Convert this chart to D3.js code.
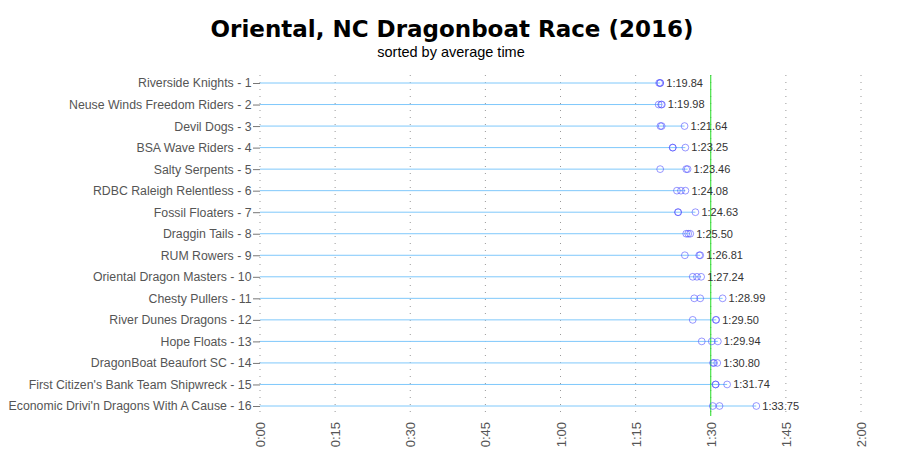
<!DOCTYPE html>
<html><head><meta charset="utf-8">
<script src="https://cdn.jsdelivr.net/npm/d3@7"></script>
<style>body{margin:0;background:#fff;} svg{display:block;font-family:"Liberation Sans",Arial,sans-serif;}</style>
</head><body><svg id="c" width="900" height="450"></svg>
<script>
const teams = ["Riverside Knights - 1","Neuse Winds Freedom Riders - 2","Devil Dogs - 3","BSA Wave Riders - 4","Salty Serpents - 5","RDBC Raleigh Relentless - 6","Fossil Floaters - 7","Draggin Tails - 8","RUM Rowers - 9","Oriental Dragon Masters - 10","Chesty Pullers - 11","River Dunes Dragons - 12","Hope Floats - 13","DragonBoat Beaufort SC - 14","First Citizen's Bank Team Shipwreck - 15","Economic Drivi'n Dragons With A Cause - 16"];
// race times in seconds (three races per team)
const race1 = [79.70,79.60,79.95,82.40,79.90,83.25,83.45,85.10,84.83,86.40,86.70,86.40,88.20,90.45,90.95,90.40];
const race2 = [79.90,80.10,80.20,82.42,85.10,84.05,83.50,85.50,87.70,87.24,87.90,91.00,90.20,90.65,91.00,91.75];
const race3 = [79.92,80.24,84.77,84.93,85.38,84.94,86.94,85.90,87.90,88.08,92.37,91.10,91.42,91.30,93.27,99.10];
const averages = [79.84,79.98,81.64,83.25,83.46,84.08,84.63,85.50,86.81,87.24,88.99,89.50,89.94,90.80,91.74,93.75];
const xTickValues = [0,15,30,45,60,75,90,105,120];
const xTickLabels = ["0:00","0:15","0:30","0:45","1:00","1:15","1:30","1:45","2:00"];
const refTime = 90;

const svg = d3.select("#c");
const x = d3.scaleLinear().domain([0,120]).range([260,861]);
const y = d3.scalePoint().domain(teams).range([83,406]);
const plotTop = 75, plotBottom = 416;

svg.append("text").attr("x",452).attr("y",37).attr("text-anchor","middle")
  .attr("font-family","DejaVu Sans, Verdana, sans-serif")
  .attr("font-size",23).attr("font-weight","bold").attr("fill","#000")
  .text("Oriental, NC Dragonboat Race (2016)");
svg.append("text").attr("x",451).attr("y",57).attr("text-anchor","middle")
  .attr("font-size",14.5).attr("fill","#000").text("sorted by average time");

// grid lines
svg.append("g").selectAll("line").data(xTickValues).join("line")
  .attr("x1",d=>x(d)).attr("x2",d=>x(d)).attr("y1",plotTop).attr("y2",plotBottom)
  .attr("stroke","#999").attr("stroke-width",1).attr("stroke-dasharray","1,6");

// x axis labels
const xa = d3.axisBottom(x).tickValues(xTickValues).tickFormat((d,i)=>xTickLabels[i]).tickSize(0);
const gx = svg.append("g").attr("transform",`translate(0,${plotBottom})`).call(xa);
gx.select(".domain").remove();
gx.selectAll("text").attr("transform","rotate(-90)").attr("text-anchor","end")
  .attr("x",-6).attr("y",0).attr("dy","0.35em").attr("font-size",13).attr("fill","#555")
  .attr("font-family","Liberation Sans, Arial, sans-serif");

// y axis
const ya = d3.axisLeft(y).tickSize(7).tickPadding(1.5);
const gy = svg.append("g").attr("transform",`translate(260,0)`).call(ya);
gy.select(".domain").remove();
gy.selectAll("line").attr("stroke","#777");
gy.selectAll("text").attr("font-size",12.3).attr("fill","#555")
  .attr("font-family","Liberation Sans, Arial, sans-serif");

// lines
const rows = teams.map((t,i)=>({team:t, times:[race1[i],race2[i],race3[i]], avg:averages[i]}));
svg.append("g").selectAll("line").data(rows).join("line")
  .attr("x1",x(0)).attr("x2",d=>x(d3.max(d.times))).attr("y1",d=>y(d.team)).attr("y2",d=>y(d.team))
  .attr("stroke","#7fc8fb").attr("stroke-width",1);

// reference line
svg.append("line").attr("x1",x(refTime)).attr("x2",x(refTime)).attr("y1",plotTop).attr("y2",plotBottom)
  .attr("stroke","#22dd22").attr("stroke-width",1);

// points
const pts = rows.flatMap(r=>r.times.map(t=>({team:r.team,t})));
svg.append("g").selectAll("circle").data(pts).join("circle")
  .attr("cx",d=>x(d.t)).attr("cy",d=>y(d.team)).attr("r",3.4)
  .attr("fill","none").attr("stroke","#4444ff").attr("stroke-opacity",0.55).attr("stroke-width",1);

function fmt(s){const m=Math.floor(s/60);const r=s-m*60;return m+":"+(r<10?"0":"")+r.toFixed(2);}
svg.append("g").selectAll("text").data(rows).join("text")
  .attr("x",d=>x(d3.max(d.times))+6).attr("y",d=>y(d.team)).attr("dy","0.35em")
  .attr("font-size",11).attr("fill","#333").text(d=>fmt(d.avg));
</script></body></html>
